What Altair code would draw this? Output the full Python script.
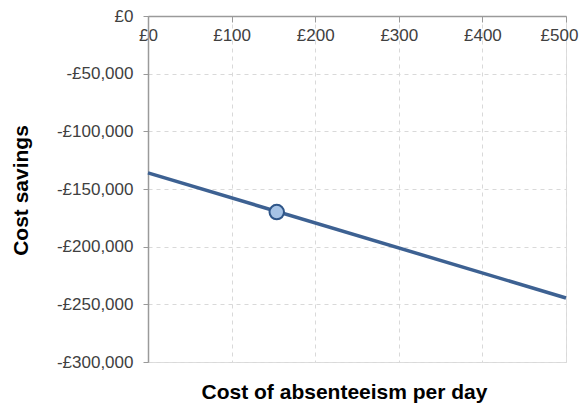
import altair as alt
import pandas as pd

line_x = [0, 500]
line_y = [-136000, -244500]
point_x = [154]
point_y = [-170000]
x_ticks = [0, 100, 200, 300, 400, 500]
y_ticks = [0, -50000, -100000, -150000, -200000, -250000, -300000]

line_df = pd.DataFrame({"x": line_x, "y": line_y})
point_df = pd.DataFrame({"x": point_x, "y": point_y})

xscale = alt.Scale(domain=[0, 500], nice=False)
yscale = alt.Scale(domain=[-300000, 0], nice=False)

H = 346
FONT = "Liberation Sans"
xaxis = alt.Axis(
    orient="bottom", offset=-H, values=x_ticks,
    labelExpr="'£' + datum.value",
    title="Cost of absenteeism per day",
    titleX=196, titleY=382, titleBaseline="alphabetic", titleAlign="center",
    titleFont=FONT, titleFontSize=21, titleFontWeight="bold", titleColor="#000000",
    labelFont=FONT, labelFontSize=17, labelColor="#404040", labelPadding=5,
    labelOffset={"condition": {"test": "datum.value == 500", "value": -7}, "value": 0},
    domainColor="#9a9a9a", domainWidth=1.5, tickColor="#9a9a9a", tickSize=6,
    gridColor="#d9d9d9", gridDash=[4, 4], labelFlush=False,
)
yaxis = alt.Axis(
    values=y_ticks,
    labelExpr="datum.value < 0 ? '-£' + format(-datum.value, ',') : '£0'",
    title="Cost savings",
    titleX=-121, titleY=174, titleBaseline="alphabetic", titleAlign="center",
    titleFont=FONT, titleFontSize=21, titleFontWeight="bold", titleColor="#000000",
    labelFont=FONT, labelFontSize=17, labelColor="#404040", labelPadding=10,
    domainColor="#9a9a9a", domainWidth=1.5, tickColor="#9a9a9a", tickSize=5,
    gridColor="#d9d9d9", gridDash=[4, 4],
)

line = alt.Chart(line_df).mark_line(color="#3d6192", strokeWidth=3.5).encode(
    x=alt.X("x:Q", scale=xscale, axis=xaxis),
    y=alt.Y("y:Q", scale=yscale, axis=yaxis),
)
pt = alt.Chart(point_df).mark_point(
    filled=True, fill="#a6c3e6", stroke="#2f5689", strokeWidth=2, size=210, opacity=1, shape="circle"
).encode(x=alt.X("x:Q", scale=xscale), y=alt.Y("y:Q", scale=yscale))

chart = (line + pt).properties(
    width=418, height=H,
    autosize=alt.AutoSizeParams(type="none"),
    padding={"left": 140, "top": 8, "right": 13, "bottom": 41},
).configure_view(stroke=None).configure(background="white")

chart.save("out.html", embed_options={"renderer": "svg", "actions": False})
